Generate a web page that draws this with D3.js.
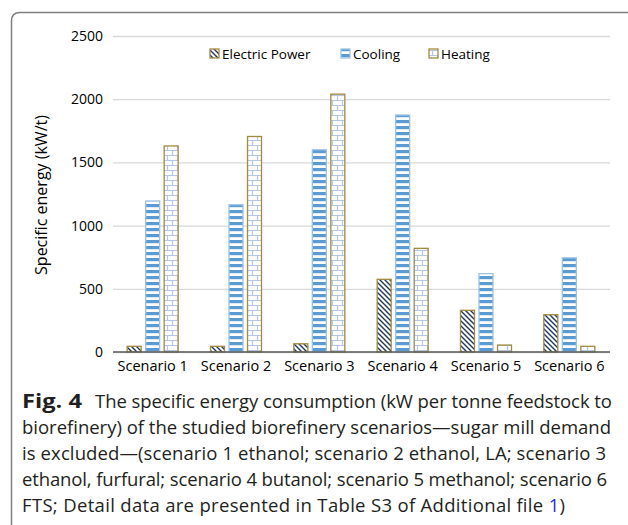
<!DOCTYPE html>
<html><head><meta charset="utf-8">
<script src="https://cdn.jsdelivr.net/npm/d3@7"></script>
<style>body{margin:0;background:#fff}svg{display:block}</style>
</head><body>
<svg id="c" width="628" height="525"></svg>
<script>
const categories = ["Scenario 1","Scenario 2","Scenario 3","Scenario 4","Scenario 5","Scenario 6"];
const seriesNames = ["Electric Power","Cooling","Heating"];
const electricPower = [45, 45, 65, 575, 330, 295];
const cooling = [1195, 1165, 1600, 1875, 620, 745];
const heating = [1630, 1705, 2040, 820, 55, 45];
const yTicks = [0, 500, 1000, 1500, 2000, 2500];
const captionLines = [
  "The specific energy consumption (kW per tonne feedstock to",
  "biorefinery) of the studied biorefinery scenarios\u2014sugar mill demand",
  "is excluded\u2014(scenario 1 ethanol; scenario 2 ethanol, LA; scenario 3",
  "ethanol, furfural; scenario 4 butanol; scenario 5 methanol; scenario 6",
  "FTS; Detail data are presented in Table S3 of Additional file "
];

const svg = d3.select("#c");
const defs = svg.append("defs");
const p1 = defs.append("pattern").attr("id","pEP").attr("patternUnits","userSpaceOnUse").attr("width",5).attr("height",5);
p1.append("rect").attr("width",5).attr("height",5).attr("fill","#fff");
p1.append("path").attr("d","M-1,-1 L6,6 M-1,4 L1,6 M4,-1 L6,1").attr("stroke","#1f3864").attr("stroke-width",1.4);
const p2 = defs.append("pattern").attr("id","pCool").attr("patternUnits","userSpaceOnUse").attr("width",6).attr("height",6);
p2.append("rect").attr("width",6).attr("height",6).attr("fill","#fff");
p2.append("rect").attr("y",0).attr("width",6).attr("height",3.2).attr("fill","#5b9bd5");
const p3 = defs.append("pattern").attr("id","pHeat").attr("patternUnits","userSpaceOnUse").attr("width",10).attr("height",10);
p3.append("rect").attr("width",10).attr("height",10).attr("fill","#fff");
p3.append("path").attr("d","M0,0.5 H10 M0,5.5 H10 M2.5,0 V5 M7.5,5 V10").attr("stroke","#b4c7e7").attr("stroke-width",1.2);

const fills = ["url(#pEP)","url(#pCool)","url(#pHeat)"];
const strokes = ["#a38a3e","#9dc3e6","#a38a3e"];

svg.append("path").attr("d","M11.5,525 V21 Q11.5,12.5 20,12.5 H628").attr("fill","none").attr("stroke","#7f7f7f").attr("stroke-width",1.5);

const m = {l:111, r:611, t:36, b:352, gl:113, gr:610};
const x0 = d3.scaleBand().domain(categories).range([m.l, m.r]).paddingInner(0.376).paddingOuter(0.188);
const x1 = d3.scaleBand().domain(seriesNames).range([0, x0.bandwidth()]).paddingInner(0.19);
const y = d3.scaleLinear().domain([0,2500]).range([m.b, m.t]);

const fontTick = "'Open Sans', sans-serif";
const yAxis = d3.axisLeft(y).tickValues(yTicks).tickFormat(d3.format("d")).tickSize(-(m.gr-m.gl)).tickPadding(10);
const gy = svg.append("g").attr("transform",`translate(${m.gl},0)`).call(yAxis);
gy.select(".domain").remove();
gy.selectAll(".tick line").attr("stroke","#d9d9d9").attr("stroke-width",1.3);
gy.selectAll(".tick text").attr("font-family",fontTick).attr("font-size",14).attr("fill","#000");

const data = categories.map((c,i)=>({c, v:[electricPower[i], cooling[i], heating[i]]}));
const g = svg.append("g");
data.forEach(d=>{
  d.v.forEach((v,j)=>{
    g.append("rect")
      .attr("x", x0(d.c)+x1(seriesNames[j])+0.5)
      .attr("y", y(v))
      .attr("width", x1.bandwidth()-1)
      .attr("height", y(0)-y(v))
      .attr("fill", fills[j]).attr("stroke", strokes[j]).attr("stroke-width",1.3);
  });
});
const xAxis = d3.axisBottom(x0).tickSize(0).tickPadding(9);
const gx = svg.append("g").attr("transform",`translate(0,${m.b})`).call(xAxis);
gx.select(".domain").attr("stroke","#595959").attr("stroke-width",1.5).attr("d",`M${m.gl},0H${m.gr}`);
gx.selectAll(".tick text").attr("font-family",fontTick).attr("font-size",14.5).attr("fill","#000");

svg.append("text").attr("transform","translate(47,195) rotate(-90)").attr("text-anchor","middle")
  .attr("font-family",fontTick).attr("font-size",16).attr("fill","#000").text("Specific energy (kW/t)");

const legX = [210, 341, 429];
seriesNames.forEach((s,j)=>{
  svg.append("rect").attr("x",legX[j]).attr("y",49).attr("width",9).attr("height",9)
    .attr("fill",fills[j]).attr("stroke",strokes[j]).attr("stroke-width",1.3);
  svg.append("text").attr("x",legX[j]+12).attr("y",59).attr("font-family",fontTick).attr("font-size",13.5).attr("fill","#000").text(s);
});

const capFont = "'Open Sans', sans-serif";
const cap = svg.append("g").attr("font-family",capFont).attr("font-size",18.5).attr("fill","#231f20");
const lineY = [408, 434, 460, 486, 512];
const lineEnd = [612, 611, 606, 607, 565];
cap.append("text").attr("x",22).attr("y",lineY[0]).attr("font-weight","bold").attr("font-size",19)
  .attr("textLength",60).attr("lengthAdjust","spacingAndGlyphs").text("Fig. 4");
cap.append("text").attr("x",95).attr("y",lineY[0]).attr("textLength",lineEnd[0]-95).attr("lengthAdjust","spacing").text(captionLines[0]);
captionLines.slice(1).forEach((l,i)=>{
  const t = cap.append("text").attr("x",22).attr("y",lineY[i+1])
    .attr("textLength",lineEnd[i+1]-22).attr("lengthAdjust","spacing").text(l);
  if(i===3){ t.append("tspan").attr("fill","#2b2bd9").text("1"); t.append("tspan").text(")"); }
});
</script>
</body></html>
